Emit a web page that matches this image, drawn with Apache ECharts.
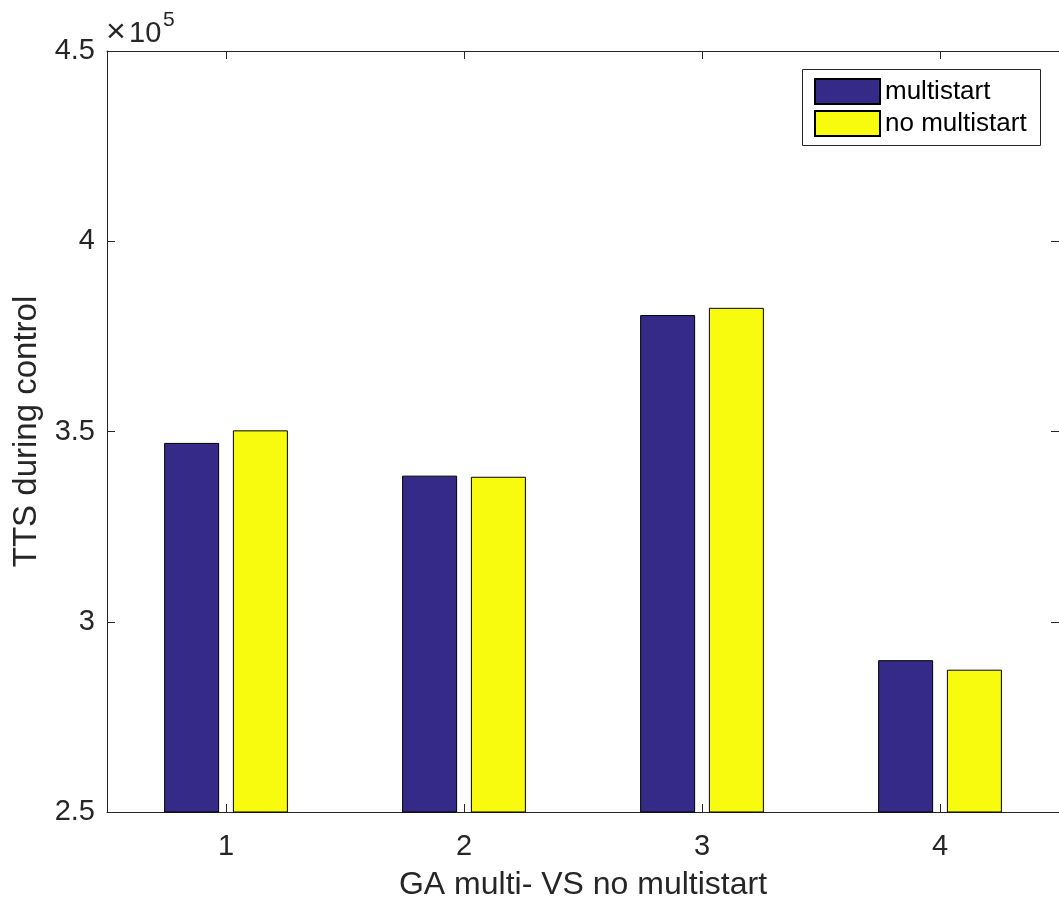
<!DOCTYPE html>
<html>
<head>
<meta charset="utf-8">
<title>GA multi- VS no multistart</title>
<script src="https://cdn.jsdelivr.net/npm/echarts@6/dist/echarts.min.js"></script>
<style>
  html, body { margin: 0; padding: 0; background: #ffffff; overflow: hidden; }
  #chart { width: 1059px; height: 906px; }
</style>
</head>
<body>
<div id="chart"></div>
<script>
// Run index (x categories)
const categories = ['1', '2', '3', '4'];

// Total time spent (TTS) during control, per run
const multistart = [347000, 338400, 380600, 289900];
const noMultistart = [350300, 338100, 382500, 287400];

// Y tick range in raw units; labels are shown scaled by 1e5
const yMin = 250000;
const yMax = 450000;
const yStep = 50000;

const FONT = "'Liberation Sans', Arial, Helvetica, sans-serif";
const INK = '#262626';

const chart = echarts.init(document.getElementById('chart'), null, { renderer: 'canvas', width: 1059, height: 906 });

const tickStyle = { show: true, inside: true, length: 8, lineStyle: { color: INK, width: 1 } };

chart.setOption({
  animation: false,
  backgroundColor: '#ffffff',
  grid: { left: 107, top: 51, width: 952, height: 764, containLabel: false },
  legend: {
    orient: 'vertical',
    left: 802,
    top: 69,
    padding: [9, 10, 8, 12],
    itemGap: 5,
    itemWidth: 65,
    itemHeight: 25,
    borderWidth: 0,
    icon: 'rect',
    textStyle: { fontFamily: FONT, fontSize: 26, color: '#000000' },
    data: ['multistart', 'no multistart']
  },
  xAxis: [
    {
      type: 'category',
      data: categories,
      position: 'bottom',
      name: 'GA multi- VS no multistart',
      nameLocation: 'middle',
      nameGap: 57,
      nameTextStyle: { fontFamily: FONT, fontSize: 32, color: INK },
      axisLine: { show: true, lineStyle: { color: INK, width: 1 } },
      axisTick: Object.assign({ alignWithLabel: true }, tickStyle),
      axisLabel: { fontFamily: FONT, fontSize: 29, color: INK, margin: 20 },
      splitLine: { show: false }
    },
    {
      type: 'category',
      data: categories,
      position: 'top',
      axisLine: { show: true, lineStyle: { color: INK, width: 1 } },
      axisTick: Object.assign({ alignWithLabel: true }, tickStyle),
      axisLabel: { show: false },
      splitLine: { show: false }
    }
  ],
  yAxis: [
    {
      type: 'value',
      min: yMin,
      max: yMax,
      interval: yStep,
      position: 'left',
      name: 'TTS during control',
      nameLocation: 'middle',
      nameRotate: 90,
      nameGap: 56,
      nameTextStyle: { fontFamily: FONT, fontSize: 33, color: INK },
      axisLine: { show: true, lineStyle: { color: INK, width: 1 } },
      axisTick: tickStyle,
      axisLabel: {
        fontFamily: FONT, fontSize: 29, color: INK, margin: 12,
        formatter: v => String(+(v / 1e5).toFixed(2))
      },
      splitLine: { show: false }
    },
    {
      type: 'value',
      min: yMin,
      max: yMax,
      interval: yStep,
      position: 'right',
      axisLine: { show: true, lineStyle: { color: INK, width: 1 } },
      axisTick: tickStyle,
      axisLabel: { show: false },
      splitLine: { show: false }
    }
  ],
  series: [
    {
      name: 'multistart',
      type: 'bar',
      data: multistart,
      barWidth: 55,
      barGap: '25%',
      itemStyle: { color: '#352a87', borderColor: '#000000', borderWidth: 1 }
    },
    {
      name: 'no multistart',
      type: 'bar',
      data: noMultistart,
      barWidth: 55,
      barGap: '25%',
      itemStyle: { color: '#f9fb0e', borderColor: '#000000', borderWidth: 1 }
    }
  ],
  graphic: [
    // legend frame
    {
      type: 'rect',
      z: -1,
      shape: { x: 802.5, y: 69.5, width: 238, height: 76 },
      style: { fill: '#ffffff', stroke: INK, lineWidth: 1 }
    },
    // axis multiplier: x10^5
    {
      type: 'text',
      left: 106,
      top: 16,
      style: { text: '\u00d7', font: '34px ' + FONT, fill: INK }
    },
    {
      type: 'text',
      left: 129,
      top: 19,
      style: { text: '10', font: '29px ' + FONT, fill: INK }
    },
    {
      type: 'text',
      left: 163,
      top: 10,
      style: { text: '5', font: '21px ' + FONT, fill: INK }
    }
  ]
});
</script>
</body>
</html>
